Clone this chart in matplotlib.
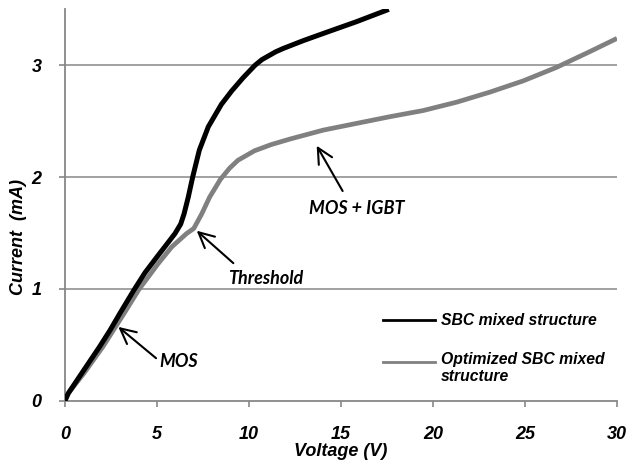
import matplotlib
matplotlib.use("Agg")
import matplotlib.pyplot as plt
from matplotlib.lines import Line2D

# I-V characteristics of the two structures
v_sbc = [0, 0.18, 0.91, 1.87, 2.45, 3.0, 3.75, 4.35, 5.02, 5.56, 5.98, 6.29,
         6.47, 6.70, 6.94, 7.30, 7.79, 8.5, 9.06, 9.69, 10.33, 10.7, 11.45,
         11.86, 12.95, 14.22, 15.85, 17.6]
i_sbc = [0, 0.066, 0.245, 0.48, 0.63, 0.785, 0.99, 1.145, 1.29, 1.405, 1.495,
         1.58, 1.67, 1.82, 2.0, 2.24, 2.45, 2.65, 2.77, 2.89, 3.0, 3.05, 3.12,
         3.15, 3.22, 3.295, 3.39, 3.5]

v_opt = [0, 0.18, 1.03, 2.05, 3.21, 4.02, 5.07, 5.80, 6.61, 7.0, 7.43, 7.86,
         8.45, 8.95, 9.4, 10.3, 11.2, 12.23, 14.04, 15.85, 17.66, 19.47,
         21.29, 23.1, 24.9, 26.7, 28.5, 30.0]
i_opt = [0, 0.066, 0.245, 0.48, 0.78, 0.995, 1.227, 1.375, 1.495, 1.54, 1.67,
         1.82, 1.98, 2.08, 2.15, 2.235, 2.29, 2.34, 2.42, 2.48, 2.54, 2.595,
         2.67, 2.76, 2.86, 2.98, 3.12, 3.24]

series_labels = ["SBC mixed structure", "Optimized SBC mixed\nstructure"]
x_ticks = [0, 5, 10, 15, 20, 25, 30]
y_ticks = [0, 1, 2, 3]

BLACK = "#000000"
GRAY = "#808080"
AXIS_GRAY = "#878787"

lab_font = dict(family="Liberation Sans", weight="bold", style="italic")
ann_font = dict(family="Lato", weight="bold", style="italic", size=13)

fig = plt.figure(figsize=(6.29, 4.67), dpi=100)
ax = fig.add_axes([0.1033, 0.142, 0.8776, 0.838])

ax.set_xlim(0, 30)
ax.set_ylim(0, 3.5)

for y in y_ticks[1:]:
    ax.axhline(y, color=AXIS_GRAY, lw=1.1, zorder=1)

ax.plot(v_opt, i_opt, color=GRAY, lw=3.4, solid_joinstyle="round",
        solid_capstyle="butt", zorder=3)
ax.plot(v_sbc, i_sbc, color=BLACK, lw=3.6, solid_joinstyle="round",
        solid_capstyle="butt", zorder=4)

for side in ("top", "right"):
    ax.spines[side].set_visible(False)
for side in ("left", "bottom"):
    ax.spines[side].set_color(AXIS_GRAY)
    ax.spines[side].set_linewidth(1.3)

ax.set_xticks(x_ticks)
ax.set_yticks(y_ticks)
ax.tick_params(axis="x", direction="out", length=4.5, width=1.2,
               color=AXIS_GRAY, pad=14)
ax.tick_params(axis="y", direction="out", length=4, width=1.2,
               color=AXIS_GRAY, pad=13)
for lab in ax.get_xticklabels() + ax.get_yticklabels():
    lab.set_fontproperties(dict(lab_font, size=13))

ax.set_xlabel("Voltage (V)", fontsize=13, labelpad=0, **lab_font)
fig.text(0.029, 0.493, "Current  (mA)", rotation=90, ha="center",
         va="center", fontsize=13, **lab_font)

# legend drawn in axes coordinates
leg_rows = [0.206, 0.098]
for yy, col in zip(leg_rows, (BLACK, GRAY)):
    ax.add_line(Line2D([0.5755, 0.670], [yy, yy], transform=ax.transAxes,
                       color=col, lw=2.0))

ax.text(0.6806, leg_rows[0], series_labels[0], transform=ax.transAxes,
        ha="left", va="center", fontsize=11.3, **lab_font)
ax.text(0.6806, leg_rows[1] + 0.027, series_labels[1], transform=ax.transAxes,
        ha="left", va="top", fontsize=11.3, linespacing=1.15, **lab_font)

arrow = dict(arrowstyle="->,head_length=1.1,head_width=0.55",
             color=BLACK, lw=1.5, shrinkA=0, shrinkB=0)

ax.annotate("", xy=(2.9, 0.66), xytext=(4.95, 0.38), arrowprops=arrow)
ax.text(6.2, 0.35, "MOS", ha="center", va="center", **ann_font)

ax.annotate("", xy=(7.16, 1.52), xytext=(9.15, 1.23), arrowprops=arrow)
ax.text(10.9, 1.09, "Threshold", ha="center", va="center", **ann_font)

ax.annotate("", xy=(13.68, 2.28), xytext=(15.09, 1.875), arrowprops=arrow)
ax.text(15.85, 1.72, "MOS + IGBT", ha="center", va="center", **ann_font)

fig.savefig("out.png", dpi=100)
